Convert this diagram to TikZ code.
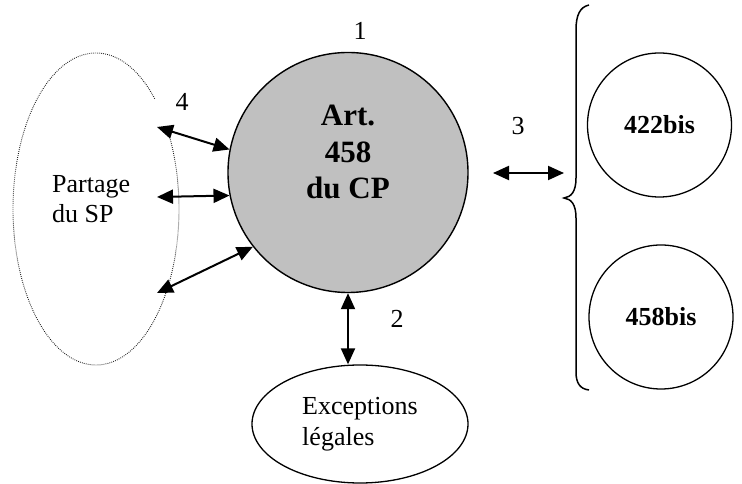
\documentclass[tikz,border=0pt]{standalone}
\usepackage{fontspec}
\setmainfont{Liberation Serif}
\usetikzlibrary{arrows.meta,calc,shapes.geometric}
\definecolor{cpgray}{HTML}{C0C0C0}
\begin{document}
\begin{tikzpicture}[x=1pt,y=1pt,
  reg/.style={font=\fontsize{26}{30.5}\selectfont, inner sep=0pt},
  bigbold/.style={font=\fontsize{31}{36.5}\selectfont\bfseries, inner sep=0pt},
  smallcirc/.style={circle, draw, line width=1.3pt, minimum size=144pt, inner sep=0pt,
    font=\fontsize{26}{30}\selectfont\bfseries},
  dbl/.style={{Triangle[length=16pt,width=14pt]}-{Triangle[length=16pt,width=14pt]}, line width=2pt},
  dots/.style={draw=black!90, line width=0.9pt, dash pattern=on 0.8pt off 1.2pt}
]
\useasboundingbox (0,0) rectangle (742,484);

% main circle
\node[circle, draw, fill=cpgray, line width=1.4pt, minimum size=240pt, inner sep=0pt] (main) at (348,311.5) {};
\node[bigbold, align=center, anchor=north] (arttext) at (348,379) {Art.\\458\\du CP};

% dotted ellipse (open where the label 4 sits)
\coordinate (el) at (96,275);
\draw[dots] ($(el)+(45:83pt and 156pt)$) arc[start angle=45, end angle=389, x radius=83pt, y radius=156pt];
\node[reg, align=left, anchor=north west] (partage) at (52,309) {Partage\\du SP};

% exceptions
\node[ellipse, draw, line width=1.3pt, minimum width=216pt, minimum height=118pt, inner sep=0pt,
  reg, align=left] (exc) at (360,60) {Exceptions\\légales};

% small circles
\node[smallcirc] (c422) at (659.5,359) {422bis};
\node[smallcirc] (c458) at (661,167) {458bis};

% brace
\draw[line width=1.5pt] (589,479) .. controls (580,477) and (576,469) .. (576,454)
  -- (576,306) .. controls (576,292) and (571,287) .. (564,286)
  .. controls (571,285) and (576,280) .. (576,266)
  -- (576,112) .. controls (576,101) and (580,95) .. (589,94);

% arrows
\coordinate (a1) at (157,357);
\coordinate (a2) at (157,287);
\coordinate (a3) at (157,191);
\draw[dbl] (a1) -- (main.169.5);
\draw[dbl] (a2) -- (main.191.8);
\draw[dbl] (a3) -- (main.218);
\draw[dbl] (main.south) -- (main.south |- exc.north);
\coordinate (b3l) at (493,311);
\coordinate (b3r) at (564,311);
\draw[dbl] (b3l) -- (b3r);

% labels
\node[reg, anchor=base] (l1) at (360,444) {1};
\node[reg, anchor=base] (l2) at (397,156) {2};
\node[reg, anchor=base] (l3) at (518,349) {3};
\node[reg, anchor=base] (l4) at (182,373) {4};
\end{tikzpicture}
\end{document}
